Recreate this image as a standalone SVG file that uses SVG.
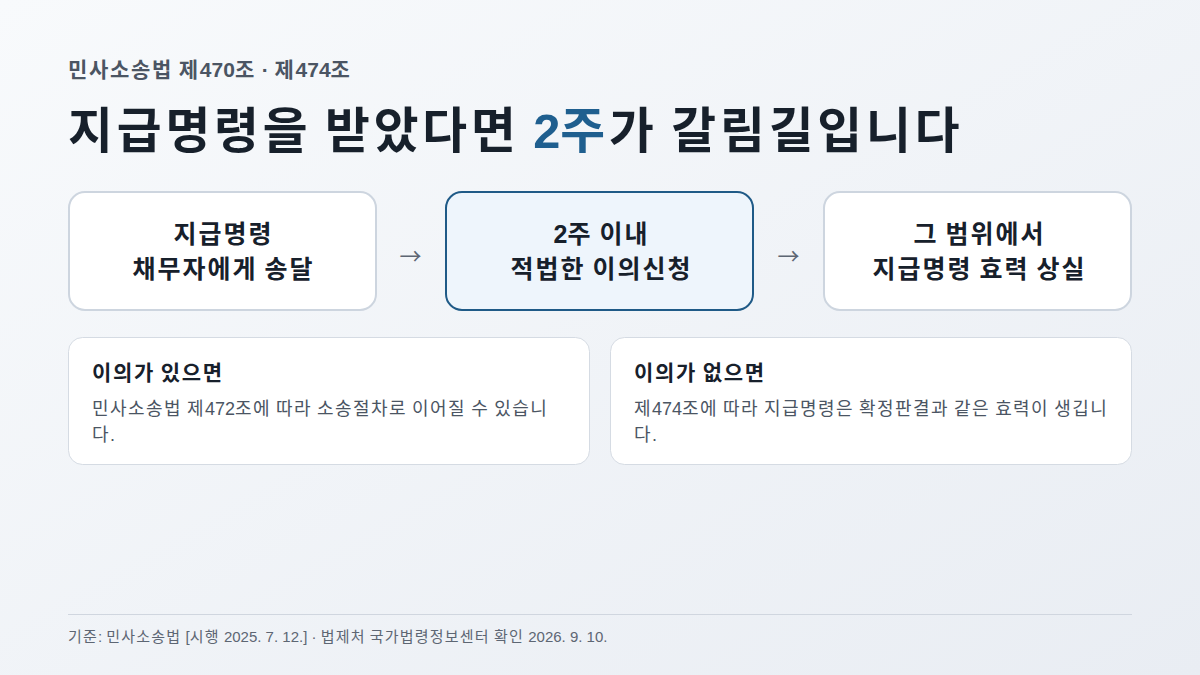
<svg xmlns="http://www.w3.org/2000/svg" width="1200" height="675" viewBox="0 0 1200 675">
<defs>
<linearGradient id="bg" x1="0" y1="0" x2="1" y2="1">
<stop offset="0" stop-color="#f8fafc"/>
<stop offset="1" stop-color="#e9edf3"/>
</linearGradient>
</defs>
<style>
text{font-family:"Liberation Sans","Noto Sans CJK KR",sans-serif;letter-spacing:0.08em}
.l{letter-spacing:0}
.kicker{font-size:21px;font-weight:700;fill:#4b5563}
.title{font-size:48.7px;font-weight:700;fill:#17202b}
.hl{fill:#1f5f8f}
.box{fill:#ffffff;stroke:#cdd5df;stroke-width:2}
.box.active{fill:#eef5fc;stroke:#1f5a87}
.bt{font-size:25px;font-weight:700;fill:#17202b;text-anchor:middle}
.arrow{font-family:"Noto Sans CJK KR",sans-serif;letter-spacing:0;font-size:22px;fill:#5d6673;text-anchor:middle}
.card{fill:#ffffff;stroke:#d5dbe3;stroke-width:1}
.ct{font-size:21px;font-weight:700;fill:#17202b}
.cb{font-size:18px;fill:#4b5563}
.foot{font-size:15px;fill:#5d6673}
</style>
<rect width="1200" height="675" fill="url(#bg)"/>
<text class="kicker" x="68" y="77">민사소송법<tspan class="l"> </tspan>제<tspan class="l">470</tspan>조<tspan class="l"> · </tspan>제<tspan class="l">474</tspan>조</text>
<text class="title" x="68" y="148">지급명령을<tspan class="l"> </tspan>받았다면<tspan class="l"> </tspan><tspan class="hl"><tspan class="l">2</tspan>주</tspan>가<tspan class="l"> </tspan>갈림길입니다</text>
<g id="node-1">
<rect class="box" x="69" y="192" width="307" height="118" rx="16"/>
<text class="bt" x="223.5" y="243">지급명령</text>
<text class="bt" x="223.5" y="278">채무자에게<tspan class="l"> </tspan>송달</text>
</g>
<g id="node-2">
<rect class="box active" x="446" y="192" width="307" height="118" rx="16"/>
<text class="bt" x="601.5" y="243"><tspan class="l">2</tspan>주<tspan class="l"> </tspan>이내</text>
<text class="bt" x="601.5" y="278">적법한<tspan class="l"> </tspan>이의신청</text>
</g>
<g id="node-3">
<rect class="box" x="824" y="192" width="307" height="118" rx="16"/>
<text class="bt" x="979.5" y="243">그<tspan class="l"> </tspan>범위에서</text>
<text class="bt" x="979.5" y="278">지급명령<tspan class="l"> </tspan>효력<tspan class="l"> </tspan>상실</text>
</g>
<g id="connectors">
<text class="arrow" x="410.5" y="264">→</text>
<text class="arrow" x="788.5" y="264">→</text>
</g>
<g id="card-1">
<rect class="card" x="68.5" y="337.5" width="521" height="127" rx="14"/>
<text class="ct" x="92" y="380">이의가<tspan class="l"> </tspan>있으면</text>
<text class="cb" x="92" y="415">민사소송법<tspan class="l"> </tspan>제<tspan class="l">472</tspan>조에<tspan class="l"> </tspan>따라<tspan class="l"> </tspan>소송절차로<tspan class="l"> </tspan>이어질<tspan class="l"> </tspan>수<tspan class="l"> </tspan>있습니</text>
<text class="cb" x="92" y="441">다<tspan class="l">.</tspan></text>
</g>
<g id="card-2">
<rect class="card" x="610.5" y="337.5" width="521" height="127" rx="14"/>
<text class="ct" x="634" y="380">이의가<tspan class="l"> </tspan>없으면</text>
<text class="cb" x="634" y="415">제<tspan class="l">474</tspan>조에<tspan class="l"> </tspan>따라<tspan class="l"> </tspan>지급명령은<tspan class="l"> </tspan>확정판결과<tspan class="l"> </tspan>같은<tspan class="l"> </tspan>효력이<tspan class="l"> </tspan>생깁니</text>
<text class="cb" x="634" y="441">다<tspan class="l">.</tspan></text>
</g>
<line x1="68" y1="614.5" x2="1132" y2="614.5" stroke="#d0d6df" stroke-width="1"/>
<text class="foot" x="68" y="642">기준<tspan class="l">: </tspan>민사소송법<tspan class="l"> [</tspan>시행<tspan class="l"> 2025. 7. 12.] · </tspan>법제처<tspan class="l"> </tspan>국가법령정보센터<tspan class="l"> </tspan>확인<tspan class="l"> 2026. 9. 10.</tspan></text>
</svg>
